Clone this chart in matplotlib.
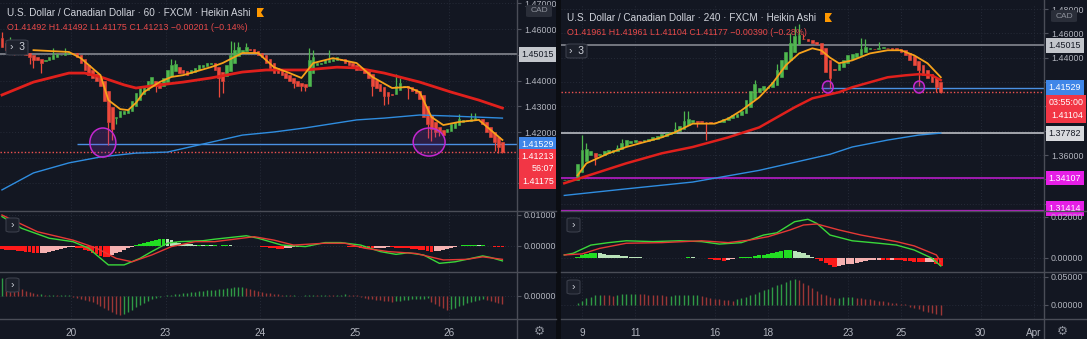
import matplotlib.pyplot as plt
import numpy as np
from matplotlib.patches import Ellipse, Rectangle, Polygon, FancyBboxPatch
from matplotlib.lines import Line2D
from matplotlib.transforms import blended_transform_factory
from matplotlib.ticker import FuncFormatter

plt.rcParams['font.family'] = ['Liberation Sans', 'DejaVu Sans']

W, H = 1087, 339
BG = '#131722'
GRID = '#262b38'
AXIS = '#50535e'
TXT = '#b2b5be'
UP = '#4fb84f'
DN = '#ee4a3c'
FS = 6.4

# ---------------- left chart : USDCAD 60 min, Heikin Ashi ----------------
left_close = [
    1.4530, 1.4520, 1.4535, 1.4525, 1.4520, 1.4510, 1.4500, 1.4490, 1.4480, 1.4480,
    1.4470, 1.4480, 1.4490, 1.4500, 1.4505, 1.4500, 1.4505, 1.4510, 1.4505, 1.4490,
    1.4470, 1.4440, 1.4420, 1.4410, 1.4400, 1.4380, 1.4320, 1.4240, 1.4210, 1.4260,
    1.4280, 1.4280, 1.4290, 1.4320, 1.4350, 1.4370, 1.4380, 1.4400, 1.4415, 1.4380,
    1.4370, 1.4410, 1.4440, 1.4460, 1.4465, 1.4430, 1.4430, 1.4420, 1.4440, 1.4450,
    1.4460, 1.4460, 1.4470, 1.4470, 1.4440, 1.4410, 1.4400, 1.4460, 1.4500, 1.4520,
    1.4530, 1.4520, 1.4530, 1.4520, 1.4510, 1.4500, 1.4490, 1.4470, 1.4450, 1.4430,
    1.4430, 1.4420, 1.4410, 1.4400, 1.4390, 1.4380, 1.4380, 1.4375, 1.4480, 1.4490,
    1.4470, 1.4470, 1.4480, 1.4480, 1.4485, 1.4490, 1.4480, 1.4470, 1.4460, 1.4450,
    1.4440, 1.4440, 1.4430, 1.4410, 1.4380, 1.4370, 1.4360, 1.4340, 1.4340, 1.4345,
    1.4380, 1.4390, 1.4380, 1.4370, 1.4360, 1.4350, 1.4330, 1.4260, 1.4230, 1.4210,
    1.4200, 1.4200, 1.4190, 1.4210, 1.4230, 1.4240, 1.4250, 1.4245, 1.4245, 1.4250,
    1.4255, 1.4250, 1.4230, 1.4200, 1.4180, 1.4160, 1.4140, 1.41213]
left_open0 = 1.4565
left_highs = [(0, 1.4590), (2, 1.4570), (13, 1.4525), (16, 1.4525), (43, 1.4485),
              (44, 1.4480), (58, 1.4555), (59, 1.4550), (60, 1.4550), (62, 1.4545),
              (78, 1.4525), (79, 1.4520), (83, 1.4520), (100, 1.4425), (101, 1.4410),
              (116, 1.4270), (119, 1.4275), (120, 1.4275)]
left_lows = [(3, 1.4500), (7, 1.4465), (8, 1.4450), (10, 1.4430), (27, 1.4150), (28, 1.4170),
             (29, 1.4230), (39, 1.4355), (55, 1.4335), (56, 1.4350), (74, 1.4370),
             (76, 1.4360), (77, 1.4360), (94, 1.4340), (97, 1.4305), (98, 1.4310),
             (103, 1.4330), (108, 1.4175), (109, 1.4165), (110, 1.4180), (111, 1.4185),
             (125, 1.4128), (126, 1.4118), (127, 1.41175)]

left_fast_x = [8, 17, 20, 25, 27, 30, 32, 34, 36, 40, 43, 46, 53, 56, 61, 65, 69, 73,
               76, 79, 84, 90, 94, 99, 103, 106, 109, 112, 116, 121, 124, 127]
left_fast = [1.4518, 1.4511, 1.4487, 1.4421, 1.4324, 1.4289, 1.4285, 1.4313, 1.4355,
             1.4394, 1.4414, 1.4421, 1.4452, 1.4468, 1.4507, 1.4507, 1.4452, 1.4429,
             1.4410, 1.4468, 1.4487, 1.4468, 1.4414, 1.4371, 1.4375, 1.4355, 1.4258,
             1.4227, 1.4239, 1.4247, 1.4208, 1.4169]
left_mid_x = [0, 8, 17, 21, 25, 31, 34, 40, 46, 53, 61, 67, 77, 85, 90, 97, 106, 114, 121, 127]
left_mid = [1.4344, 1.4394, 1.4429, 1.4429, 1.4414, 1.4383, 1.4371, 1.4383, 1.4394,
            1.4410, 1.4433, 1.4441, 1.4441, 1.4452, 1.4449, 1.4429, 1.4394, 1.4355,
            1.4324, 1.4293]
left_slow_x = [0, 8, 17, 25, 34, 42, 61, 69, 77, 90, 97, 106, 114, 127]
left_slow = [1.3975, 1.4041, 1.4080, 1.4103, 1.4118, 1.4122, 1.4188, 1.4200, 1.4216,
             1.4247, 1.4254, 1.4266, 1.4262, 1.4254]

# MACD (units of 1e-4)
left_hist = [
    -11, -12, -13, -14, -16, -17, -18, -20, -22, -24,
    -23, -21, -19, -16, -13, -10, -7, -4,
    -3, -5, -8, -12, -17, -22, -27, -32, -35, -36,
    -30, -24, -18, -12, -7, -3,
    2, 5, 9, 13, 17, 20, 22,
    23, 21, 18, 14, 11, 8, 6,
    5, 4, 4, 3, 3, 2, 2,
    1, 2, 3, 2, 1, 0.5, 1, 1.5, 1, 0.5, -1,
    -2, -4, -6, -8, -9, -10,
    -8, -6, -4, -3, -2,
    -1, 0.5, 1, 1.5, 1, 0.5, -0.5, 0.5, 0.5, -0.5, -1,
    -2, -3, -4, -5, -6, -7, -8,
    -7, -6, -5, -4,
    -4.5, -5, -6, -7, -8, -9, -10, -12, -14, -16, -18, -17,
    -15, -12, -9, -6, -3,
    1, 2, 3, 3, 3, 2, 2, 1,
    -1, -2, -2.5, -3]
left_macd_x = [0, 5, 12, 18, 22, 24, 27, 31, 35, 38, 42, 45, 51, 54, 62, 65, 71, 77,
               82, 86, 91, 96, 100, 103, 107, 111, 115, 118, 122, 124, 127]
left_macd = [95, 57, 25, 14, -7, -29, -61, -61, -40, -18, 9, 14, 17, 22, 33, 25, 3, -2,
             11, 11, 3, -18, -27, -22, -29, -56, -51, -43, -32, -37, -48]
left_sig_x = [0, 9, 18, 24, 29, 33, 38, 43, 49, 54, 64, 69, 74, 82, 87, 92, 98, 105,
              112, 118, 122, 127]
left_sig = [100, 46, 19, -7, -40, -51, -29, -2, 14, 14, 30, 19, 3, 9, 9, -7, -18, -24,
            -45, -43, -35, -43]

# lower oscillator (units of 1e-4)
left_osc = [
    18, 17, 16, 12, 9, 7, 5, 4, 3, 2, 2,
    1, 1, 1, 0.5, 0.5, 0.5, 0.5,
    -1, -2, -3, -4, -5, -6,
    -8, -10, -12, -14, -16, -18, -19,
    -18, -16, -14, -11, -9, -7, -5, -3, -2, -1,
    -0.5, 0.5, 1, 1.5,
    2, 2.5, 3, 3.5, 4, 4.5, 5, 5.5, 5.5, 6, 6.5, 7, 7.5, 8, 8.5, 9, 9,
    8, 7, 6, 5, 4, 3,
    2.5, 2, 1.5, 1, 1, 0.5, 0.5, 0.3, 0.2,
    0.5, 0.8, 1, 0.8, 1, 1.2, 1, 0.8, 1, 1.2, 1.5, 1.2, 1, 0.5,
    -1, -2, -3, -3.5, -4, -4.5, -5, -5.5, -6,
    -5.5, -5, -4.5, -4, -3.5, -3.2, -3, -2.8, -2.6,
    -6, -8, -10, -12, -14,
    -13, -12, -10, -9, -7, -6, -5, -4, -3.5,
    -4.5, -5.5, -6.5, -7.5, -8]

left_day_pos = [17.5, 41.5, 65.5, 89.5, 113.5]
left_day_lab = ['20', '23', '24', '25', '26']
left_price_ticks = [1.40, 1.41, 1.42, 1.43, 1.44, 1.45, 1.46, 1.47]
left_price_shown = [1.42, 1.43, 1.44, 1.46, 1.47]
left_title = 'U.S. Dollar / Canadian Dollar · 60 · FXCM · Heikin Ashi'
left_ohlc = 'O1.41492 H1.41492 L1.41175 C1.41213 −0.00201 (−0.14%)'
left_levels = {'grey': 1.45015, 'blue': 1.41529, 'last': 1.41213}
left_blue_from = 19
left_circles = [(25.6, 1.4159, 6.6, 0.0113), (108.4, 1.4161, 8.1, 0.0109)]

# ---------------- right chart : USDCAD 240 min, Heikin Ashi ----------------
right_x = np.arange(-4, 82)
right_close = [
    1.3397, 1.3398, 1.3397, 1.3530,
    1.3640, 1.3650, 1.3630, 1.3580, 1.3610, 1.3630, 1.3640, 1.3645, 1.3660, 1.3700,
    1.3720, 1.3715, 1.3720, 1.3710, 1.3720, 1.3735, 1.3745, 1.3755, 1.3770, 1.3780,
    1.3790, 1.3810, 1.3840, 1.3880, 1.3900, 1.3890, 1.3870, 1.3875, 1.3875, 1.3865,
    1.3870, 1.3880, 1.3900, 1.3915, 1.3925, 1.3940, 1.3960, 1.4050, 1.4130, 1.4180,
    1.4150, 1.4170, 1.4160, 1.4200, 1.4300, 1.4380, 1.4450, 1.4520, 1.4580, 1.4590,
    1.4550, 1.4535, 1.4520, 1.4515, 1.4430, 1.4280, 1.4230, 1.4300, 1.4350, 1.4380,
    1.4420, 1.4430, 1.4440, 1.4470, 1.4490, 1.4480, 1.4470, 1.4480, 1.4485, 1.4480,
    1.4475, 1.4470, 1.4450, 1.4420, 1.4380, 1.4340, 1.4300, 1.4260, 1.4230, 1.4200,
    1.4160, 1.41177]
right_open0 = 1.3397
right_highs = [(0, 1.3764), (1, 1.3700), (8, 1.3680), (9, 1.3730), (21, 1.3870),
               (23, 1.3960), (24, 1.3965), (39, 1.4215), (44, 1.4350), (47, 1.4600),
               (48, 1.4660), (49, 1.4680), (50, 1.4595), (63, 1.4560), (64, 1.4555),
               (67, 1.4530)]
right_lows = [(3, 1.3518), (7, 1.3620), (26, 1.3830), (28, 1.3720), (56, 1.4150),
              (76, 1.4165), (80, 1.4115), (81, 1.41104)]

right_fast_x = [-1, 1, 6, 10, 18, 21, 25, 30, 33, 36, 40, 43, 46, 49, 52, 54, 56, 58,
                61, 65, 69, 72, 75, 78, 81]
right_fast = [1.3433, 1.3532, 1.3614, 1.3666, 1.3745, 1.3787, 1.3858, 1.3858, 1.3899,
              1.3967, 1.4074, 1.4189, 1.4337, 1.4435, 1.4477, 1.4460, 1.4400, 1.4354,
              1.4378, 1.4435, 1.4461, 1.4461, 1.4419, 1.4354, 1.4239]
right_mid_x = [-4, 3, 10, 18, 25, 33, 40, 48, 52, 58, 61, 65, 69, 73, 76, 79, 81]
right_mid = [1.3368, 1.3450, 1.3532, 1.3614, 1.3666, 1.3745, 1.3827, 1.3992, 1.4066,
             1.4116, 1.4157, 1.4198, 1.4239, 1.4255, 1.4264, 1.4255, 1.4215]
right_slow_x = [-4, 10, 25, 40, 56, 61, 69, 76, 81]
right_slow = [1.3268, 1.3322, 1.3378, 1.3474, 1.3606, 1.3666, 1.3723, 1.3764, 1.3780]

right_hist = [
    0, 0, 0, 5,
    12, 18, 23, 25, 22, 19, 16, 14, 12, 10,
    8, 6, 4, 3, 1, 0.5, 0.3, 0.2, 0, 0,
    -1, -2, -1, 1, 3, 2, 0.5, 0, -3, -6,
    -10, -13, -14, -12, -5, -2, 2, 4, 6, 9,
    12, 16, 20, 25, 30, 34, 37, 38, 35, 30,
    22, 14, 6, -5, -15, -25, -35, -43, -40, -36,
    -32, -28, -24, -20, -16, -13, -11, -10, -11, -12,
    -10, -11, -13, -15, -17, -19, -20, -22, -20, -19,
    -30, -38]
right_macd_x = [-4, -2, 2, 6, 10, 16, 22, 27, 31, 36, 41, 44, 48, 51, 53, 56, 61, 67,
                71, 75, 79, 81]
right_macd = [14, 22, 62, 74, 83, 79, 83, 79, 67, 74, 111, 122, 176, 188, 168, 111, 83,
              71, 62, 38, -2, -40]
right_sig_x = [-4, 0, 4, 10, 18, 27, 33, 38, 42, 47, 50, 53, 58, 63, 71, 75, 80, 81]
right_sig = [14, 19, 46, 71, 74, 83, 74, 87, 103, 136, 160, 165, 136, 111, 79, 58, 14, -19]

right_osc = [
    0, 0, 0, 0.004,
    0.008, 0.012, 0.015, 0.018, 0.018, 0.0175, 0.017, 0.0168, 0.018, 0.019,
    0.0195, 0.020, 0.0205, 0.0195, 0.019, 0.0185, 0.018, 0.0175, 0.017, 0.0165,
    0.0168, 0.017, 0.0172, 0.0175, 0.0178, 0.018, 0.0182, 0.016, 0.014, 0.012,
    0.011, 0.010, 0.009, 0.0085, 0.008, 0.010, 0.012, 0.014, 0.017, 0.020,
    0.023, 0.026, 0.029, 0.032, 0.035, 0.038, 0.041, 0.044, 0.046, 0.044,
    0.040, 0.035, 0.030, 0.025, 0.020, 0.017, 0.015, 0.012, 0.013, 0.014,
    0.0145, 0.015, 0.013, 0.012, 0.011, 0.010, 0.009, 0.008, 0.007, 0.006,
    0.004, 0.003, 0.002, 0.001, -0.004, -0.006, -0.008, -0.010, -0.012, -0.014,
    -0.016, -0.018]

right_day_pos = [0, 12, 30, 42, 60, 72, 90, 102]
right_day_lab = ['9', '11', '16', '18', '23', '25', '30', 'Apr']
right_price_ticks = [1.32, 1.34, 1.36, 1.38, 1.40, 1.42, 1.44, 1.46, 1.48]
right_price_shown = [1.36, 1.44, 1.46, 1.48]
right_title = 'U.S. Dollar / Canadian Dollar · 240 · FXCM · Heikin Ashi'
right_ohlc = 'O1.41961 H1.41961 L1.41104 C1.41177 −0.00390 (−0.28%)'
right_levels = {'grey': 1.45015, 'blue': 1.41529, 'last': 1.41177,
                'white': 1.37782, 'mag1': 1.34107, 'mag2': 1.31414}
right_blue_from = 54
right_circles = [(55.5, 1.4159, 2.4, 0.0098), (76.1, 1.4159, 2.4, 0.0098)]


fig = plt.figure(figsize=(W / 100, H / 100), dpi=100, facecolor=BG)


def px_axes(x0, y0, x1, y1):
    ax = fig.add_axes([x0 / W, 1 - y1 / H, (x1 - x0) / W, (y1 - y0) / H])
    ax.set_facecolor(BG)
    for s in ax.spines.values():
        s.set_visible(False)
    ax.yaxis.tick_right()
    ax.tick_params(axis='y', colors=AXIS, labelcolor=TXT, labelsize=FS, length=3,
                   width=0.8, pad=2)
    ax.tick_params(axis='x', length=0, labelbottom=False)
    ax.grid(True, color=GRID, lw=0.7, ls=(0, (1, 2)))
    ax.set_axisbelow(True)
    return ax


def price_fmt(shown):
    return FuncFormatter(lambda v, p: '%.5f' % v if any(abs(v - s) < 1e-6 for s in shown) else '')


def fig_line(x0, y0, x1, y1, color=AXIS, lw=1.0):
    fig.add_artist(Line2D([x0 / W, x1 / W], [1 - y0 / H, 1 - y1 / H],
                          transform=fig.transFigure, color=color, lw=lw, zorder=20))


def heikin(ax, x, close, open0, highs, lows, width):
    close = np.asarray(close)
    opn = np.empty_like(close)
    opn[0] = open0
    for i in range(1, len(close)):
        opn[i] = (opn[i - 1] + close[i - 1]) / 2
    top = np.maximum(opn, close)
    bot = np.minimum(opn, close)
    cols = np.where(close >= opn, UP, DN)
    k0 = x[0]
    for k, v in highs:
        i = k - k0
        ax.vlines(x[i], top[i], max(v, top[i]), color=cols[i], lw=0.9, zorder=3)
    for k, v in lows:
        i = k - k0
        ax.vlines(x[i], min(v, bot[i]), bot[i], color=cols[i], lw=0.9, zorder=3)
    ax.bar(x, top - bot, bottom=bot, width=width, color=cols, edgecolor=cols,
           linewidth=0.4, zorder=4)


def macd_panel(ax, x, hist, mx, mv, sx, sv, scale):
    h = np.asarray(hist, dtype=float) * scale
    prev = np.r_[h[0], h[:-1]]
    cols = []
    for v, p in zip(h, prev):
        if v >= 0:
            cols.append('#22dd22' if v >= p else '#b9e3b9')
        else:
            cols.append('#ff1a1a' if v <= p else '#f5b1b1')
    ax.bar(x, h, width=0.95, color=cols, zorder=3)
    ax.plot(mx, np.asarray(mv) * scale, color='#3ad83a', lw=1.0, zorder=4)
    ax.plot(sx, np.asarray(sv) * scale, color='#e53935', lw=1.0, zorder=4)


def osc_panel(ax, x, vals, scale):
    v = np.asarray(vals, dtype=float) * scale
    prev = np.r_[v[0], v[:-1]]
    cols = np.where(v >= prev, '#2f9a45', '#9c3636')
    ax.vlines(x, 0, v, colors=cols, lw=1.0, zorder=3)


def tag(ax, y, text, fc, tc, dy=0, va='center'):
    tr = blended_transform_factory(ax.transAxes, ax.transData)
    ax.annotate(text, xy=(1.0, y), xycoords=tr, xytext=(3.2, dy),
                textcoords='offset points', ha='left', va=va, fontsize=FS, color=tc,
                multialignment='right', linespacing=1.55,
                bbox=dict(boxstyle='square,pad=0.32', fc=fc, ec='none'),
                annotation_clip=False, zorder=10)


def button(x0, y0, x1, y1, text):
    fig.add_artist(FancyBboxPatch((x0 / W, 1 - y1 / H), (x1 - x0) / W, (y1 - y0) / H,
                                  boxstyle='round,pad=0,rounding_size=0.004',
                                  transform=fig.transFigure, fc='#1c202b',
                                  ec='#3a3e4a', lw=0.8, zorder=21))
    fig.text((x0 + x1) / 2 / W, 1 - (y0 + y1) / 2 / H, text, color='#d1d4dc',
             fontsize=7.5, ha='center', va='center', zorder=22)


def flag(x, y):
    fig.add_artist(Polygon([((x) / W, 1 - y / H), ((x + 7) / W, 1 - y / H),
                            ((x + 4) / W, 1 - (y + 4.5) / H), ((x + 7) / W, 1 - (y + 9) / H),
                            (x / W, 1 - (y + 9) / H)], closed=True,
                           transform=fig.transFigure, fc='#ff9800', ec='none', zorder=21))


def circles(ax, items):
    for cx, cy, w, h in items:
        ax.add_patch(Ellipse((cx, cy), w, h, fc=(0.55, 0.2, 0.75, 0.22),
                             ec='#c427d0', lw=1.1, zorder=6))


# ======== left chart ========
lx = np.arange(len(left_close))
lxlim = (-0.5, 130.7)
lp = px_axes(0, 0, 517, 211)
lm = px_axes(0, 211, 517, 271.5)
lo = px_axes(0, 271.5, 517, 319)
for ax in (lp, lm, lo):
    ax.set_xlim(*lxlim)
    ax.set_xticks(left_day_pos)

lp.set_ylim(1.3893, 1.4713)
lp.set_yticks(left_price_ticks)
lp.yaxis.set_major_formatter(price_fmt(left_price_shown))
heikin(lp, lx, left_close, left_open0, left_highs, left_lows, 0.62)
lp.plot(left_slow_x, left_slow, color='#2f8de0', lw=1.0, zorder=5)
lp.plot(left_mid_x, left_mid, color='#e0201c', lw=2.0, zorder=5)
lp.plot(left_fast_x, left_fast, color='#f7a21b', lw=1.3, zorder=5)
lp.axhline(left_levels['grey'], color='#8e9199', lw=1.1, zorder=2)
lp.hlines(left_levels['blue'], left_blue_from, lxlim[1], color='#4a90e2', lw=1.0, zorder=2)
lp.axhline(left_levels['last'], color='#ef5350', lw=1.0, ls=(0, (1, 1.5)), zorder=2)
circles(lp, left_circles)
tag(lp, left_levels['grey'], '1.45015', '#c3c6cc', '#131722')
tag(lp, left_levels['blue'], '1.41529', '#3f86e8', 'white')
tag(lp, left_levels['last'], '1.41213\n56:07\n1.41175', '#f23645', 'white', dy=0.5, va='top')

lm.set_ylim(-0.00823, 0.01129)
lm.set_yticks([0.0, 0.01])
lm.yaxis.set_major_formatter(FuncFormatter(lambda v, p: '%.5f' % v))
macd_panel(lm, lx, left_hist, left_macd_x, left_macd, left_sig_x, left_sig, 1e-4)

lo.set_ylim(-0.00233, 0.00245)
lo.set_yticks([0.0])
lo.yaxis.set_major_formatter(FuncFormatter(lambda v, p: '%.5f' % v))
osc_panel(lo, lx, left_osc, 1e-4)
lo.tick_params(axis='x', labelbottom=True, labelsize=7.2, labelcolor=TXT, pad=6.5)
lo.set_xticklabels(left_day_lab)

# ======== right chart ========
rxlim = (-4.74, 104.3)
rp = px_axes(561, 5, 1044, 211)
rm = px_axes(561, 211, 1044, 272)
ro = px_axes(561, 272, 1044, 319)
for ax in (rp, rm, ro):
    ax.set_xlim(*rxlim)
    ax.set_xticks(right_day_pos)

rp.set_ylim(1.314, 1.4833)
rp.set_yticks(right_price_ticks)
rp.yaxis.set_major_formatter(price_fmt(right_price_shown))
heikin(rp, right_x, right_close, right_open0, right_highs, right_lows, 0.62)
rp.plot(right_slow_x, right_slow, color='#2f8de0', lw=1.0, zorder=5)
rp.plot(right_mid_x, right_mid, color='#e0201c', lw=1.8, zorder=5)
rp.plot(right_fast_x, right_fast, color='#f7a21b', lw=1.3, zorder=5)
rp.axhline(right_levels['grey'], color='#8e9199', lw=1.1, zorder=2)
rp.axhline(right_levels['white'], color='#c9ccd2', lw=1.1, zorder=2)
rp.hlines(right_levels['blue'], right_blue_from, rxlim[1], color='#4a90e2', lw=1.0, zorder=2)
rp.axhline(right_levels['last'], color='#ef5350', lw=1.0, ls=(0, (1, 1.5)), zorder=2)
rp.axhline(right_levels['mag1'], color='#b81cc8', lw=1.2, zorder=2)
rp.axhline(right_levels['mag2'], color='#b81cc8', lw=1.6, zorder=2)
circles(rp, right_circles)
tag(rp, right_levels['grey'], '1.45015', '#c3c6cc', '#131722')
tag(rp, right_levels['blue'], '1.41529', '#3f86e8', 'white')
tag(rp, right_levels['last'], '03:55:00\n1.41104', '#f23645', 'white', dy=-4.5, va='top')
tag(rp, right_levels['white'], '1.37782', '#d8dade', '#131722')
tag(rp, right_levels['mag1'], '1.34107', '#e61ee6', 'white')
tag(rp, right_levels['mag2'], '1.31414', '#e61ee6', 'white', dy=-1.5, va='bottom')

rm.set_ylim(-0.00693, 0.02283)
rm.set_yticks([0.0, 0.02])
rm.yaxis.set_major_formatter(FuncFormatter(lambda v, p: '%.5f' % v))
macd_panel(rm, right_x, right_hist, right_macd_x, right_macd, right_sig_x, right_sig, 1e-4)

ro.set_ylim(-0.025, 0.0589)
ro.set_yticks([0.0, 0.05])
ro.yaxis.set_major_formatter(FuncFormatter(lambda v, p: '%.5f' % v))
osc_panel(ro, right_x, right_osc, 1.0)
ro.tick_params(axis='x', labelbottom=True, labelsize=7.2, labelcolor=TXT, pad=6.5)
ro.set_xticklabels(right_day_lab)

# ======== frame, headers, buttons ========
for x0, x1, xa in ((0, 556, 517), (561, 1087, 1044)):
    for yy in (211, 271.5, 319):
        fig_line(x0, yy, x1, yy, color='#4a4d57', lw=1.0)
    fig_line(xa, 0, xa, 339, color='#4a4d57', lw=1.0)
fig.add_artist(Rectangle((556 / W, 0), 5 / W, 1, transform=fig.transFigure,
                         fc='#0b0d12', ec='none', zorder=19))

for x, y in ((526, 5), (1051, 10)):
    fig.add_artist(FancyBboxPatch((x / W, 1 - (y + 12) / H), 26 / W, 12 / H,
                                  boxstyle='round,pad=0,rounding_size=0.003',
                                  transform=fig.transFigure, fc='#2a2e39', ec='none',
                                  zorder=21))
    fig.text((x + 13) / W, 1 - (y + 6) / H, 'CAD', color='#8d919b', fontsize=6,
             ha='center', va='center', zorder=22)

fig.text(7 / W, 1 - 13 / H, left_title, color='#d1d4dc', fontsize=7.2, va='center', zorder=22)
fig.text(7 / W, 1 - 27.5 / H, left_ohlc, color='#e84a4a', fontsize=6.4, va='center', zorder=22)
flag(257, 8)
fig.text(567 / W, 1 - 18 / H, right_title, color='#d1d4dc', fontsize=7.2, va='center', zorder=22)
fig.text(567 / W, 1 - 32.5 / H, right_ohlc, color='#e84a4a', fontsize=6.4, va='center', zorder=22)
flag(825, 13)

button(6, 40, 28, 55, '›  3')
button(566, 44, 587, 58, '›  3')
for x0, y0 in ((6, 218), (6, 278), (567, 218), (567, 280)):
    button(x0, y0, x0 + 13, y0 + 14, '›')

for gx in (539, 1062):
    fig.text(gx / W, 1 - 331 / H, '⚙', color='#8d919b', fontsize=9,
             ha='center', va='center', family='DejaVu Sans')

fig.savefig('out.png', dpi=100, facecolor=BG)
